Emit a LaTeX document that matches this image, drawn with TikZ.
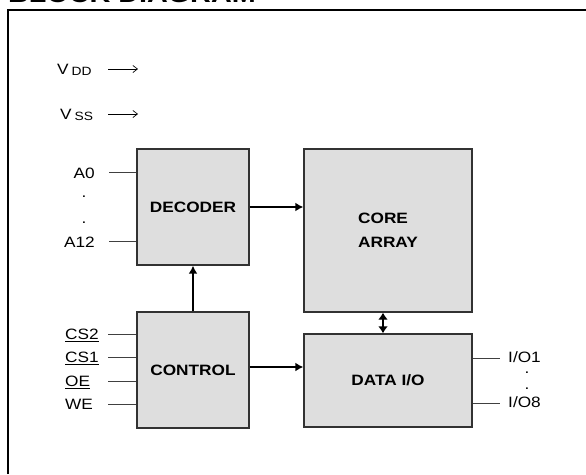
\documentclass[tikz,border=0pt]{standalone}
\usepackage{fontspec}
\setmainfont[FakeStretch=1.15]{Liberation Sans}
\usetikzlibrary{arrows.meta}
\definecolor{blkF}{RGB}{222,222,222}
\definecolor{blkE}{RGB}{50,50,50}

\begin{document}
\begin{tikzpicture}[x=1pt,y=-1pt,font=\fontsize{15}{18}\selectfont,
 blk/.style={draw=blkE,line width=1.4pt,fill=blkF,inner sep=0pt,font=\fontsize{15}{24}\selectfont\bfseries},
 pin/.style={black!75,line width=0.8pt},
 bus/.style={line width=2.4pt,-{Latex[length=8pt,width=9pt]}},
 feed/.style={line width=0.7pt,-{Straight Barb[length=4.5pt,width=7pt]}},
 lbl/.style={inner sep=0pt}]
\useasboundingbox (0,0) rectangle (586,474);
\clip (0,0) rectangle (586,474);
\node[lbl,anchor=base west,font=\fontsize{25}{25}\selectfont\bfseries] (title) at (8,2.5) {BLOCK DIAGRAM};
\draw[line width=2.6pt] (8,474) -- (8,10) -- (586,10);
% supplies
\node[lbl,anchor=base west] (vdd) at (57,74.5) {V\hspace{3pt}\raisebox{-1pt}{\fontsize{12}{12}\selectfont DD}};
\node[lbl,anchor=base west] (vss) at (60,119.5) {V\hspace{3pt}\raisebox{-1pt}{\fontsize{12}{12}\selectfont SS}};
\coordinate (vddA) at (108,69); \coordinate (vddB) at (138,69);
\coordinate (vssA) at (108,114); \coordinate (vssB) at (138,114);
\draw[feed] (vddA) -- (vddB); \draw[feed] (vssA) -- (vssB);
% blocks
\node[blk,minimum width=112pt,minimum height=116pt] (dec) at (193,207) {DECODER};
\node[blk,minimum width=112pt,minimum height=116pt] (ctl) at (193,370) {CONTROL};
\node[blk,minimum width=168pt,minimum height=163pt,align=left] (core) at (388,230.5) {CORE\\ARRAY};
\node[blk,minimum width=168pt,minimum height=93pt] (dio) at (388,380.5) {DATA I/O};
% address pins
\foreach \t/\y [count=\i] in {A0/172,A12/241} {
 \coordinate (ap\i) at (109,\y);
 \node[lbl,anchor=base east] (al\i) at (95,\y+6) {\t};
 \draw[pin] (ap\i) -- (ap\i -| dec.west); }
\node[lbl,anchor=base] (adot1) at (84,197) {.}; \node[lbl,anchor=base] (adot2) at (84,223) {.};
% control pins
\foreach \t/\y [count=\i] in {{\underline{CS2}}/334,{\underline{CS1}}/357,{\underline{OE}}/381,WE/404} {
 \coordinate (cp\i) at (108,\y);
 \node[lbl,anchor=base west] (cl\i) at (65,\y+5.5) {\t};
 \draw[pin] (cp\i) -- (cp\i -| ctl.west); }
% data pins
\foreach \t/\y [count=\i] in {{I/O1}/358,{I/O8}/403} {
 \coordinate (dp\i) at (500,\y);
 \node[lbl,anchor=base west] (dl\i) at (508,\y+4) {\t};
 \draw[pin] (dio.east |- dp\i) -- (dp\i); }
\node[lbl,anchor=base] (ddot1) at (527,373) {.}; \node[lbl,anchor=base] (ddot2) at (527,389) {.};
% buses
\draw[bus] (dec.east) -- (dec.east -| core.west);
\draw[bus] (ctl.north) -- (dec.south);
\draw[bus] ([yshift=3pt]ctl.east) -- ([yshift=3pt]ctl.east -| dio.west);
\draw[bus,{Latex[length=7pt,width=10pt]}-{Latex[length=7pt,width=10pt]}] ([xshift=-5pt]core.south) -- ([xshift=-5pt]dio.north);
\end{tikzpicture}
\end{document}
